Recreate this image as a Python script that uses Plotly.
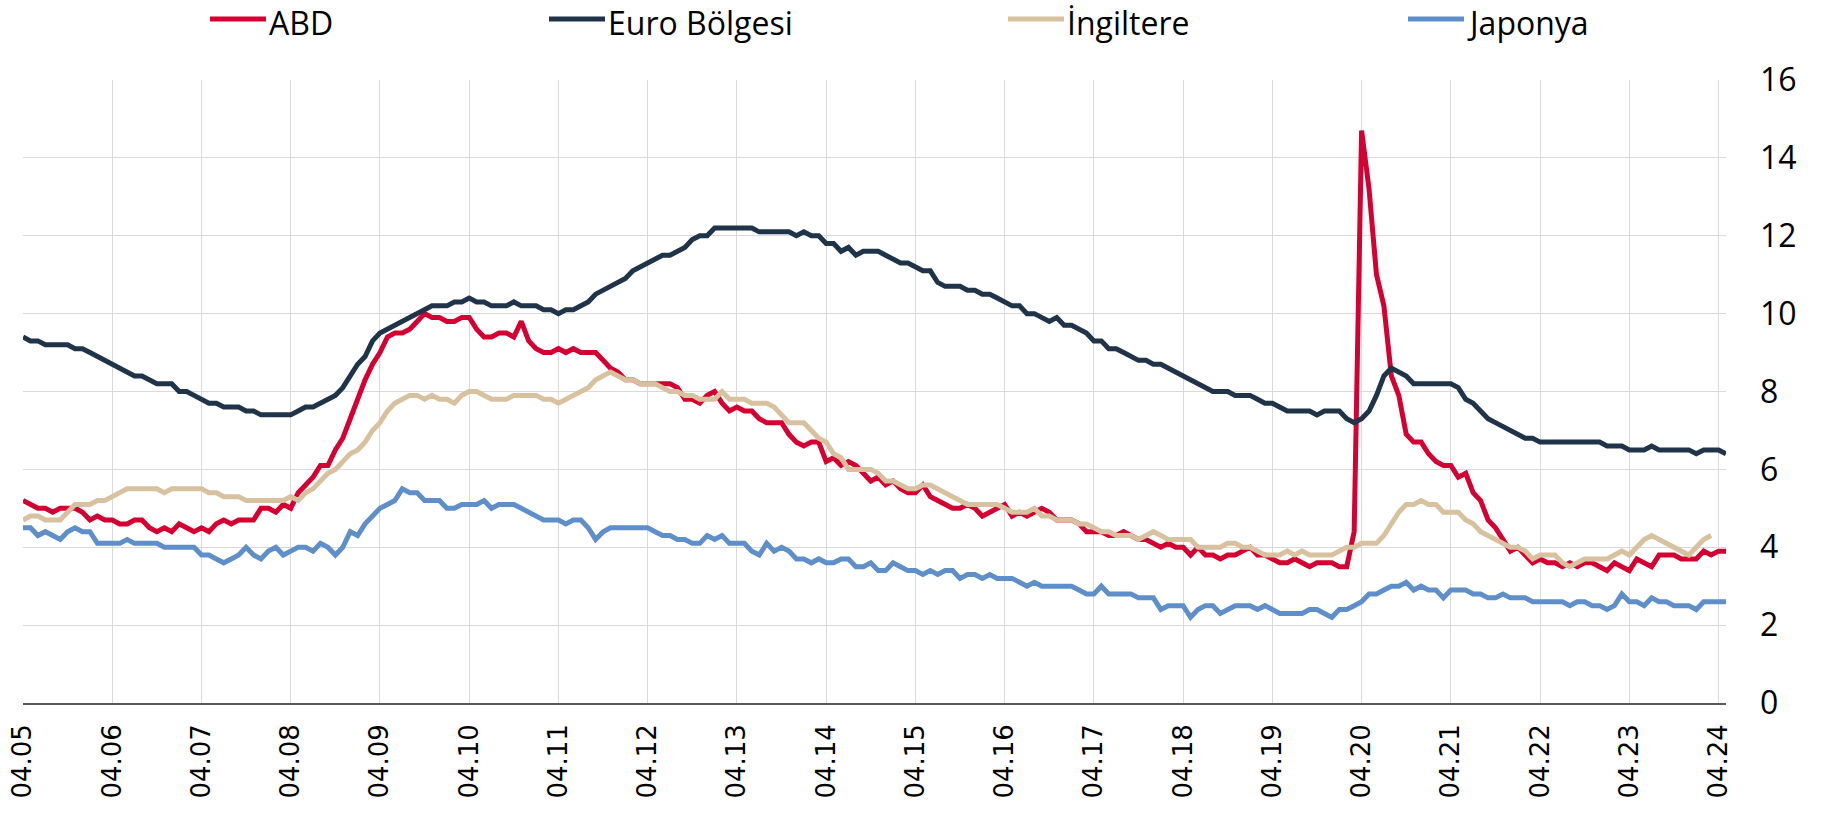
import plotly.graph_objects as go

# ---------------- data ----------------
start_year, start_month, n_months = 2005, 4, 230
months = []
y, m = start_year, start_month
for _ in range(n_months):
    months.append(f"{m:02d}.{y % 100:02d}")
    m += 1
    if m > 12:
        m, y = 1, y + 1

tick_labels = ["04.05", "04.06", "04.07", "04.08", "04.09", "04.10", "04.11", "04.12",
               "04.13", "04.14", "04.15", "04.16", "04.17", "04.18", "04.19", "04.20",
               "04.21", "04.22", "04.23", "04.24"]

abd = [5.2, 5.1, 5.0, 5.0, 4.9, 5.0, 5.0, 5.0, 4.9,
       4.7, 4.8, 4.7, 4.7, 4.6, 4.6, 4.7, 4.7, 4.5, 4.4, 4.5, 4.4,
       4.6, 4.5, 4.4, 4.5, 4.4, 4.6, 4.7, 4.6, 4.7, 4.7, 4.7, 5.0,
       5.0, 4.9, 5.1, 5.0, 5.4, 5.6, 5.8, 6.1, 6.1, 6.5, 6.8, 7.3,
       7.8, 8.3, 8.7, 9.0, 9.4, 9.5, 9.5, 9.6, 9.8, 10.0, 9.9, 9.9,
       9.8, 9.8, 9.9, 9.9, 9.6, 9.4, 9.4, 9.5, 9.5, 9.4, 9.8, 9.3,
       9.1, 9.0, 9.0, 9.1, 9.0, 9.1, 9.0, 9.0, 9.0, 8.8, 8.6, 8.5,
       8.3, 8.3, 8.2, 8.2, 8.2, 8.2, 8.2, 8.1, 7.8, 7.8, 7.7, 7.9,
       8.0, 7.7, 7.5, 7.6, 7.5, 7.5, 7.3, 7.2, 7.2, 7.2, 6.9, 6.7,
       6.6, 6.7, 6.7, 6.2, 6.3, 6.1, 6.2, 6.1, 5.9, 5.7, 5.8, 5.6,
       5.7, 5.5, 5.4, 5.4, 5.6, 5.3, 5.2, 5.1, 5.0, 5.0, 5.1, 5.0,
       4.8, 4.9, 5.0, 5.1, 4.8, 4.9, 4.8, 4.9, 5.0, 4.9, 4.7, 4.7,
       4.7, 4.6, 4.4, 4.4, 4.4, 4.3, 4.3, 4.4, 4.3, 4.2, 4.2, 4.1,
       4.0, 4.1, 4.0, 4.0, 3.8, 4.0, 3.8, 3.8, 3.7, 3.8, 3.8, 3.9,
       4.0, 3.8, 3.8, 3.7, 3.6, 3.6, 3.7, 3.6, 3.5, 3.6, 3.6, 3.6,
       3.5, 3.5, 4.4, 14.7, 13.2, 11.0, 10.2, 8.4, 7.9, 6.9, 6.7, 6.7,
       6.4, 6.2, 6.1, 6.1, 5.8, 5.9, 5.4, 5.2, 4.7, 4.5, 4.2, 3.9,
       4.0, 3.8, 3.6, 3.7, 3.6, 3.6, 3.5, 3.6, 3.5, 3.6, 3.6, 3.5,
       3.4, 3.6, 3.5, 3.4, 3.7, 3.6, 3.5, 3.8, 3.8, 3.8, 3.7, 3.7,
       3.7, 3.9, 3.8, 3.9, 3.9]

euro = [9.4, 9.3, 9.3, 9.2, 9.2, 9.2, 9.2, 9.1, 9.1, 9.0, 8.9, 8.8,
        8.7, 8.6, 8.5, 8.4, 8.4, 8.3, 8.2, 8.2, 8.2, 8.0, 8.0, 7.9,
        7.8, 7.7, 7.7, 7.6, 7.6, 7.6, 7.5, 7.5, 7.4, 7.4, 7.4, 7.4,
        7.4, 7.5, 7.6, 7.6, 7.7, 7.8, 7.9, 8.1, 8.4, 8.7, 8.9, 9.3,
        9.5, 9.6, 9.7, 9.8, 9.9, 10.0, 10.1, 10.2, 10.2, 10.2, 10.3, 10.3,
        10.4, 10.3, 10.3, 10.2, 10.2, 10.2, 10.3, 10.2, 10.2, 10.2, 10.1, 10.1,
        10.0, 10.1, 10.1, 10.2, 10.3, 10.5, 10.6, 10.7, 10.8, 10.9, 11.1, 11.2,
        11.3, 11.4, 11.5, 11.5, 11.6, 11.7, 11.9, 12.0, 12.0, 12.2, 12.2, 12.2,
        12.2, 12.2, 12.2, 12.1, 12.1, 12.1, 12.1, 12.1, 12.0, 12.1, 12.0, 12.0,
        11.8, 11.8, 11.6, 11.7, 11.5, 11.6, 11.6, 11.6, 11.5, 11.4, 11.3, 11.3,
        11.2, 11.1, 11.1, 10.8, 10.7, 10.7, 10.7, 10.6, 10.6, 10.5, 10.5, 10.4,
        10.3, 10.2, 10.2, 10.0, 10.0, 9.9, 9.8, 9.9, 9.7, 9.7, 9.6, 9.5,
        9.3, 9.3, 9.1, 9.1, 9.0, 8.9, 8.8, 8.8, 8.7, 8.7, 8.6, 8.5,
        8.4, 8.3, 8.2, 8.1, 8.0, 8.0, 8.0, 7.9, 7.9, 7.9, 7.8, 7.7,
        7.7, 7.6, 7.5, 7.5, 7.5, 7.5, 7.4, 7.5, 7.5, 7.5, 7.3, 7.2,
        7.3, 7.5, 7.9, 8.4, 8.6, 8.5, 8.4, 8.2, 8.2, 8.2, 8.2, 8.2,
        8.2, 8.1, 7.8, 7.7, 7.5, 7.3, 7.2, 7.1, 7.0, 6.9, 6.8, 6.8,
        6.7, 6.7, 6.7, 6.7, 6.7, 6.7, 6.7, 6.7, 6.7, 6.6, 6.6, 6.6,
        6.5, 6.5, 6.5, 6.6, 6.5, 6.5, 6.5, 6.5, 6.5, 6.4, 6.5, 6.5,
        6.5, 6.4]

ingiltere = [4.7, 4.8, 4.8, 4.7, 4.7, 4.7, 4.9, 5.1, 5.1, 5.1, 5.2, 5.2,
             5.3, 5.4, 5.5, 5.5, 5.5, 5.5, 5.5, 5.4, 5.5, 5.5, 5.5, 5.5,
             5.5, 5.4, 5.4, 5.3, 5.3, 5.3, 5.2, 5.2, 5.2, 5.2, 5.2, 5.2,
             5.3, 5.2, 5.4, 5.5, 5.7, 5.9, 6.0, 6.2, 6.4, 6.5, 6.7, 7.0,
             7.2, 7.5, 7.7, 7.8, 7.9, 7.9, 7.8, 7.9, 7.8, 7.8, 7.7, 7.9,
             8.0, 8.0, 7.9, 7.8, 7.8, 7.8, 7.9, 7.9, 7.9, 7.9, 7.8, 7.8,
             7.7, 7.8, 7.9, 8.0, 8.1, 8.3, 8.4, 8.5, 8.4, 8.3, 8.3, 8.2,
             8.2, 8.2, 8.1, 8.0, 8.0, 7.9, 7.9, 7.8, 7.8, 7.8, 8.0, 7.8,
             7.8, 7.8, 7.7, 7.7, 7.7, 7.6, 7.4, 7.2, 7.2, 7.2, 7.0, 6.8,
             6.7, 6.4, 6.3, 6.0, 6.0, 6.0, 6.0, 5.9, 5.7, 5.7, 5.6, 5.5,
             5.5, 5.6, 5.6, 5.5, 5.4, 5.3, 5.2, 5.1, 5.1, 5.1, 5.1, 5.1,
             5.0, 4.9, 4.9, 4.9, 5.0, 4.8, 4.8, 4.7, 4.7, 4.7, 4.6, 4.6,
             4.5, 4.4, 4.4, 4.3, 4.3, 4.3, 4.2, 4.3, 4.4, 4.3, 4.2, 4.2,
             4.2, 4.2, 4.0, 4.0, 4.0, 4.0, 4.1, 4.1, 4.0, 4.0, 3.9, 3.8,
             3.8, 3.8, 3.9, 3.8, 3.9, 3.8, 3.8, 3.8, 3.8, 3.9, 4.0, 4.0,
             4.1, 4.1, 4.1, 4.3, 4.6, 4.9, 5.1, 5.1, 5.2, 5.1, 5.1, 4.9,
             4.9, 4.9, 4.7, 4.6, 4.4, 4.3, 4.2, 4.1, 4.0, 4.0, 3.9, 3.7,
             3.8, 3.8, 3.8, 3.6, 3.5, 3.6, 3.7, 3.7, 3.7, 3.7, 3.8, 3.9,
             3.8, 4.0, 4.2, 4.3, 4.2, 4.1, 4.0, 3.9, 3.8, 4.0, 4.2, 4.3]

japonya = [4.5, 4.5, 4.3, 4.4, 4.3, 4.2, 4.4, 4.5, 4.4, 4.4, 4.1, 4.1,
           4.1, 4.1, 4.2, 4.1, 4.1, 4.1, 4.1, 4.0, 4.0, 4.0, 4.0, 4.0,
           3.8, 3.8, 3.7, 3.6, 3.7, 3.8, 4.0, 3.8, 3.7, 3.9, 4.0, 3.8,
           3.9, 4.0, 4.0, 3.9, 4.1, 4.0, 3.8, 4.0, 4.4, 4.3, 4.6, 4.8,
           5.0, 5.1, 5.2, 5.5, 5.4, 5.4, 5.2, 5.2, 5.2, 5.0, 5.0, 5.1,
           5.1, 5.1, 5.2, 5.0, 5.1, 5.1, 5.1, 5.0, 4.9, 4.8, 4.7, 4.7,
           4.7, 4.6, 4.7, 4.7, 4.5, 4.2, 4.4, 4.5, 4.5, 4.5, 4.5, 4.5,
           4.5, 4.4, 4.3, 4.3, 4.2, 4.2, 4.1, 4.1, 4.3, 4.2, 4.3, 4.1,
           4.1, 4.1, 3.9, 3.8, 4.1, 3.9, 4.0, 3.9, 3.7, 3.7, 3.6, 3.7,
           3.6, 3.6, 3.7, 3.7, 3.5, 3.5, 3.6, 3.4, 3.4, 3.6, 3.5, 3.4,
           3.4, 3.3, 3.4, 3.3, 3.4, 3.4, 3.2, 3.3, 3.3, 3.2, 3.3, 3.2,
           3.2, 3.2, 3.1, 3.0, 3.1, 3.0, 3.0, 3.0, 3.0, 3.0, 2.9, 2.8,
           2.8, 3.0, 2.8, 2.8, 2.8, 2.8, 2.7, 2.7, 2.7, 2.4, 2.5, 2.5,
           2.5, 2.2, 2.4, 2.5, 2.5, 2.3, 2.4, 2.5, 2.5, 2.5, 2.4, 2.5,
           2.4, 2.3, 2.3, 2.3, 2.3, 2.4, 2.4, 2.3, 2.2, 2.4, 2.4, 2.5,
           2.6, 2.8, 2.8, 2.9, 3.0, 3.0, 3.1, 2.9, 3.0, 2.9, 2.9, 2.7,
           2.9, 2.9, 2.9, 2.8, 2.8, 2.7, 2.7, 2.8, 2.7, 2.7, 2.7, 2.6,
           2.6, 2.6, 2.6, 2.6, 2.5, 2.6, 2.6, 2.5, 2.5, 2.4, 2.5, 2.8,
           2.6, 2.6, 2.5, 2.7, 2.6, 2.6, 2.5, 2.5, 2.5, 2.4, 2.6, 2.6,
           2.6, 2.6]

series_names = ["ABD", "Euro Bölgesi", "İngiltere", "Japonya"]
series_values = [abd, euro, ingiltere, japonya]
series_colors = ["#D50032", "#1F3349", "#D7C19E", "#5F8FCA"]

# ---------------- layout geometry (pixels) ----------------
W, H = 1836, 813
PL, PR, PT, PB = 23, 1726, 80, 703


def px_to_paper_x(px):
    return (px - PL) / (PR - PL)


def px_to_paper_y(py):
    return (PB - py) / (PB - PT)


fig = go.Figure()
for name, vals, col in zip(series_names, series_values, series_colors):
    fig.add_trace(go.Scatter(
        x=months[:len(vals)], y=vals, name=name, mode="lines",
        line=dict(color=col, width=5), showlegend=False,
    ))

# manual legend (line swatch + text) at the top
legend_line_starts = [210, 549, 1008, 1408]
legend_y = 22
for name, col, x0 in zip(series_names, series_colors, legend_line_starts):
    fig.add_shape(type="line", xref="paper", yref="paper",
                  x0=px_to_paper_x(x0), x1=px_to_paper_x(x0 + 56),
                  y0=px_to_paper_y(legend_y - 3), y1=px_to_paper_y(legend_y - 3),
                  line=dict(color=col, width=5))
    fig.add_annotation(xref="paper", yref="paper",
                       x=px_to_paper_x(x0 + 57), y=px_to_paper_y(legend_y),
                       xanchor="left", yanchor="middle", showarrow=False,
                       text=name, font=dict(family="Open Sans", size=32, color="black"))

fig.update_layout(
    width=W, height=H,
    margin=dict(l=PL, r=W - PR, t=PT, b=H - PB, pad=0, autoexpand=False),
    paper_bgcolor="white", plot_bgcolor="white",
    showlegend=False,
    font=dict(family="Open Sans", color="black"),
)
fig.update_xaxes(
    type="category", range=[0, len(months) - 1], automargin=False,
    tickmode="array", tickvals=tick_labels, ticktext=tick_labels,
    tickangle=-90, tickfont=dict(family="DejaVu Sans", size=26, color="black"),
    ticks="", ticklabelstandoff=9,
    showgrid=True, gridcolor="#d9d9d9", gridwidth=1.3,
    showline=True, linecolor="#595959", linewidth=1.5,
    zeroline=False, fixedrange=True,
)
fig.update_yaxes(
    side="right", range=[0, 16], tick0=0, dtick=2, automargin=False,
    tickfont=dict(family="Open Sans", size=32, color="black"),
    ticks="", ticklabelstandoff=33,
    showgrid=True, gridcolor="#d9d9d9", gridwidth=1.3,
    zeroline=False, showline=False, fixedrange=True,
)

fig.write_html(
    "out.html",
    config={"displayModeBar": False},
    post_script="document.body.style.margin='0';document.body.style.padding='0';"
                "document.body.style.overflow='hidden';",
)
